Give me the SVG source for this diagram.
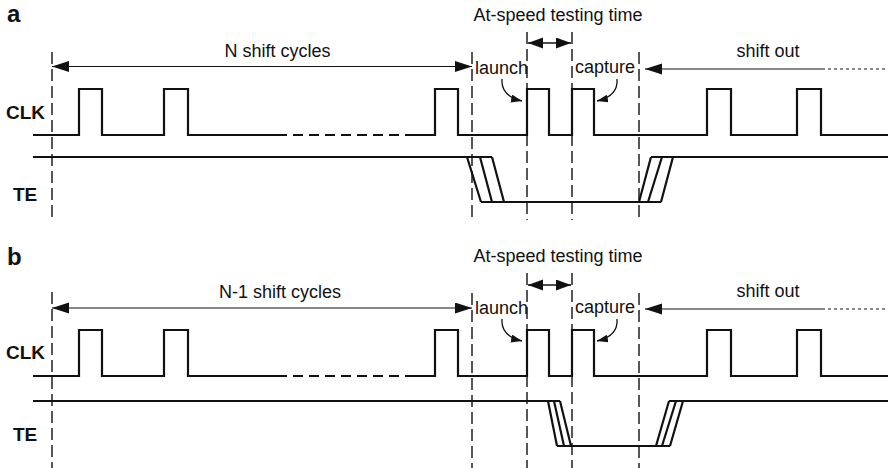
<svg xmlns="http://www.w3.org/2000/svg" width="888" height="468" viewBox="0 0 888 468">
<style>
.t{font-family:"Liberation Sans",Arial,sans-serif;font-size:18px;fill:#111}
.lb{font-family:"Liberation Sans",Arial,sans-serif;font-weight:bold;font-size:19px;fill:#111}
.pl{font-family:"Liberation Sans",Arial,sans-serif;font-weight:bold;font-size:24px;fill:#111}
.sig{fill:none;stroke:#111;stroke-width:2.2}
.dotsig{fill:none;stroke:#111;stroke-width:2.2;stroke-dasharray:10,6}
.vd{fill:none;stroke:#111;stroke-width:1.4;stroke-dasharray:12,5}
.ar{fill:none;stroke:#111;stroke-width:1.1}
.arb{fill:none;stroke:#111;stroke-width:1.3}
.dot{fill:none;stroke:#111;stroke-width:1.1;stroke-dasharray:3,3}
</style>
<defs>
<marker id="ah" markerUnits="userSpaceOnUse" markerWidth="18" markerHeight="12" refX="17" refY="5.5" orient="auto-start-reverse"><path d="M0,0 L17,5.5 L0,11 z" fill="#111"/></marker>
<marker id="ah2" markerUnits="userSpaceOnUse" markerWidth="16" markerHeight="12" refX="15" refY="5.5" orient="auto-start-reverse"><path d="M0,0 L15,5.5 L0,11 z" fill="#111"/></marker>
<marker id="ah3" markerUnits="userSpaceOnUse" markerWidth="12" markerHeight="10" refX="11" refY="4" orient="auto"><path d="M0,0 L11,4 L0,8 z" fill="#111"/></marker>
</defs>

<g id="panel-a">
<text class="pl" x="7" y="22">a</text>
<g id="a-labels">
<text class="lb" x="6" y="119">CLK</text>
<text class="lb" x="13" y="201">TE</text>
<text class="t" x="277.5" y="57" text-anchor="middle">N shift cycles</text>
<text class="t" x="558" y="21" text-anchor="middle">At-speed testing time</text>
<text class="t" x="475" y="74">launch</text>
<text class="t" x="575" y="73">capture</text>
<text class="t" x="768" y="57" text-anchor="middle">shift out</text>
</g>
<g id="a-clk">
<path class="sig" d="M33,135 H79 V89 H102 V135 H164 V89 H188 V135 H277"/>
<path class="dotsig" d="M277,135 H413"/>
<path class="sig" d="M413,135 H435 V89 H458 V135 H527 V89 H549 V135 H572 V89 H594 V135 H707 V89 H731 V135 H797 V89 H821 V135 H888"/>
</g>
<g id="a-te">
<path class="sig" d="M33,157 H492 M481,202 H661 M651,157 H888 M467,157 L481,202 M480,157 L492,202 M492,157 L504,202 M639,202 L651,157 M648,202 L662,157 M661,202 L673,157"/>
</g>
<g id="a-connectors">
<path class="vd" d="M52,52 V220 M472,52 V220 M527,32 V220 M572,32 V220 M639,52 V220"/>
<path class="ar" d="M52,66.5 H472" marker-start="url(#ah)" marker-end="url(#ah)"/>
<path class="arb" d="M528,43 H571" marker-start="url(#ah2)" marker-end="url(#ah2)"/>
<path class="ar" d="M822,69 H645" marker-end="url(#ah)"/>
<path class="dot" d="M822,69 H888"/>
<path class="arb" d="M502,79 C501,91 509,98 522,101" marker-end="url(#ah3)"/>
<path class="arb" d="M617,79 C618,91 610,98 597,101" marker-end="url(#ah3)"/>
</g>
</g>

<g id="panel-b">
<text class="pl" x="7" y="265">b</text>
<g id="b-labels">
<text class="lb" x="6" y="359">CLK</text>
<text class="lb" x="13" y="441">TE</text>
<text class="t" x="280" y="298" text-anchor="middle">N-1 shift cycles</text>
<text class="t" x="558" y="262" text-anchor="middle">At-speed testing time</text>
<text class="t" x="475" y="314">launch</text>
<text class="t" x="575" y="313">capture</text>
<text class="t" x="768" y="297" text-anchor="middle">shift out</text>
</g>
<g id="b-clk">
<path class="sig" d="M33,376 H79 V330 H102 V376 H164 V330 H188 V376 H277"/>
<path class="dotsig" d="M277,376 H413"/>
<path class="sig" d="M413,376 H435 V330 H458 V376 H527 V330 H549 V376 H572 V330 H594 V376 H707 V330 H731 V376 H797 V330 H821 V376 H888"/>
</g>
<g id="b-te">
<path class="sig" d="M33,401 H560 M557,446 H670 M669,401 H888 M548,401 L557,446 M554,401 L564,446 M560,401 L571,446 M656,446 L669,401 M662,446 L676,401 M670,446 L683,401"/>
</g>
<g id="b-connectors">
<path class="vd" d="M52,292 V468 M472,293 V468 M527,273 V468 M572,273 V468 M639,293 V468"/>
<path class="ar" d="M52,308 H472" marker-start="url(#ah)" marker-end="url(#ah)"/>
<path class="arb" d="M528,285 H571" marker-start="url(#ah2)" marker-end="url(#ah2)"/>
<path class="ar" d="M822,309 H645" marker-end="url(#ah)"/>
<path class="dot" d="M822,309 H888"/>
<path class="arb" d="M502,319 C501,331 509,338 522,341" marker-end="url(#ah3)"/>
<path class="arb" d="M617,319 C618,331 610,338 597,341" marker-end="url(#ah3)"/>
</g>
</g>
</svg>
